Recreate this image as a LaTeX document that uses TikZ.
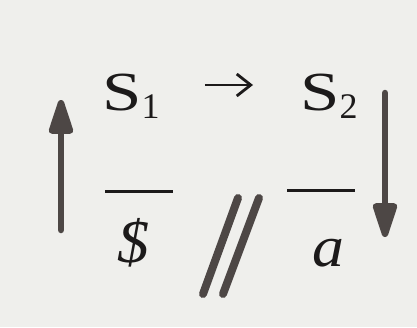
\documentclass[tikz,border=0pt]{standalone}
\usepackage{fontspec}
\setmainfont{Liberation Serif}
\usetikzlibrary{arrows.meta}
\definecolor{paper}{HTML}{EFEFEC}
\definecolor{ink}{HTML}{1C1A1A}
\definecolor{pen}{HTML}{4D4745}
\tikzset{
  lbl/.style={inner sep=0pt, text=ink, font=\fontsize{58}{60}\selectfont},
  thinarrow/.style={draw=ink, line width=2.8pt, -{Straight Barb[length=14pt,width=22pt,line width=2.8pt]}},
  thickarrow/.style={draw=pen, line width=6.5pt, line cap=round, -{Triangle[length=42pt,width=25pt,round]}},
  fracbar/.style={draw=ink, line width=3pt},
  slash/.style={draw=pen, line width=8pt, line cap=round}
}
\newcommand{\widecap}[1]{\scalebox{1.22}[0.95]{#1}}
\newcommand{\subsc}[1]{\raisebox{-8pt}{\fontsize{36}{40}\selectfont #1}}
\begin{document}
\begin{tikzpicture}[x=1pt,y=-1pt]
\fill[paper] (0,0) rectangle (417,327);
\useasboundingbox (0,0) rectangle (417,327);
\node[lbl, anchor=base west] (s1) at (102,110) {\widecap{S}\subsc{1}};
\node[lbl, anchor=base west] (s2) at (300,110) {\widecap{S}\subsc{2}};
\node[lbl, anchor=base] (dol) at (133,262) {\scalebox{1.1}[1.05]{\textit{\$}}};
\node[lbl, anchor=base] (a) at (328,266) {\scalebox{1.1}[1]{\textit{a}}};
\draw[thinarrow, shorten <=45pt, shorten >=47pt] ([yshift=25pt]s1.base east) -- ([yshift=25pt]s2.base west);
\coordinate (lb) at (61,230);
\coordinate (lt) at (61,100);
\coordinate (rt) at (385,93);
\coordinate (rb) at (385,237);
\draw[thickarrow] (lb) -- (lt);
\draw[thickarrow] (rt) -- (rb);
\draw[fracbar] (105,191) -- (173,191);
\draw[fracbar] (287,190) -- (355,190);
\draw[slash] (203,294) -- (238,198);
\draw[slash] (223,294) -- (259,198);
\end{tikzpicture}
\end{document}
